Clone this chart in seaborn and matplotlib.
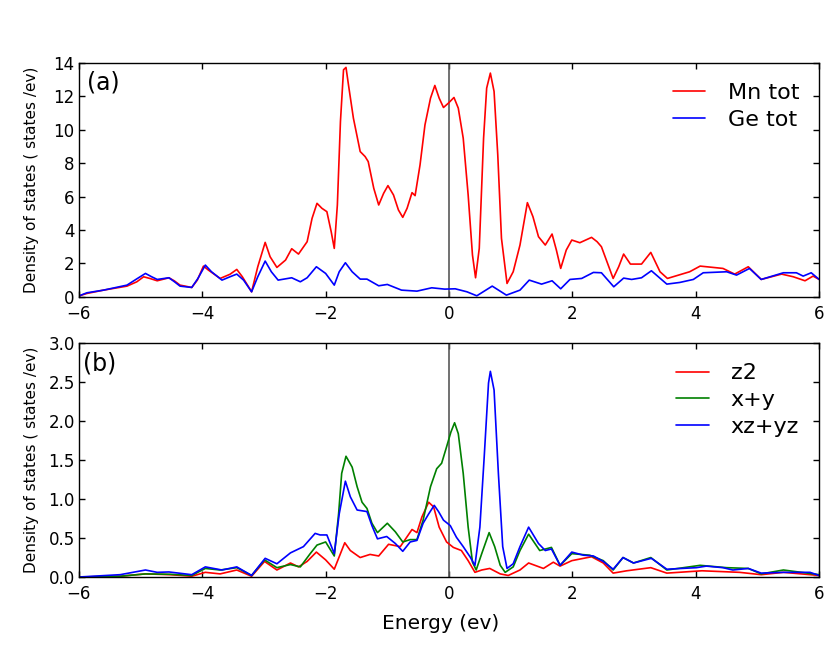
import matplotlib
matplotlib.use("Agg")
import matplotlib.pyplot as plt
import seaborn as sns

# (a) total DOS
energy_mn = [-6, -5.87, -5.6, -5.22, -5.06, -4.95, -4.85, -4.73, -4.54, -4.45, -4.36, -4.17, -4.08, -3.98, -3.9,
             -3.71, -3.55, -3.44, -3.35, -3.2, -3.1, -2.98, -2.9, -2.79, -2.65, -2.55, -2.44, -2.3, -2.22, -2.14,
             -2.06, -1.98, -1.91, -1.86, -1.81, -1.76, -1.71, -1.67, -1.63, -1.55, -1.44, -1.36, -1.31, -1.22, -1.14,
             -1.06, -0.99, -0.9, -0.82, -0.75, -0.68, -0.6, -0.55, -0.47, -0.39, -0.3, -0.23, -0.16, -0.09, -0.01,
             0.08, 0.15, 0.23, 0.31, 0.38, 0.43, 0.49, 0.56, 0.61, 0.67, 0.73, 0.79, 0.85, 0.94, 1.04,
             1.15, 1.27, 1.36, 1.45, 1.56, 1.67, 1.74, 1.81, 1.9, 1.99, 2.12, 2.31, 2.4, 2.47, 2.57,
             2.66, 2.75, 2.83, 2.94, 3.12, 3.27, 3.42, 3.54, 3.9, 4.07, 4.44, 4.63, 4.85, 5.06, 5.39,
             5.58, 5.77, 5.9, 6.0]
mn_tot = [0.05, 0.2, 0.4, 0.64, 0.9, 1.2, 1.1, 0.96, 1.14, 0.95, 0.7, 0.56, 1.0, 1.84, 1.6,
          1.1, 1.35, 1.64, 1.2, 0.3, 1.8, 3.26, 2.4, 1.76, 2.2, 2.88, 2.56, 3.3, 4.7, 5.6,
          5.3, 5.1, 3.9, 2.9, 5.5, 10.5, 13.6, 13.74, 12.7, 10.7, 8.7, 8.4, 8.1, 6.5, 5.5,
          6.2, 6.66, 6.1, 5.2, 4.76, 5.3, 6.24, 6.06, 7.9, 10.3, 11.9, 12.66, 11.9, 11.34, 11.6,
          11.94, 11.3, 9.5, 6.1, 2.5, 1.14, 2.9, 9.5, 12.5, 13.4, 12.3, 8.5, 3.5, 0.8, 1.5,
          3.1, 5.64, 4.8, 3.6, 3.1, 3.76, 2.8, 1.7, 2.8, 3.4, 3.24, 3.56, 3.3, 3.0, 2.0,
          1.1, 1.8, 2.56, 1.96, 1.96, 2.66, 1.5, 1.1, 1.5, 1.84, 1.7, 1.36, 1.8, 1.04, 1.36,
          1.2, 0.96, 1.24, 1.04]

energy_ge = [-6, -5.87, -5.6, -5.22, -5.05, -4.92, -4.82, -4.73, -4.54, -4.45, -4.36, -4.17, -4.07, -3.95, -3.85,
             -3.68, -3.55, -3.44, -3.33, -3.2, -3.1, -2.98, -2.88, -2.77, -2.55, -2.41, -2.3, -2.15, -2.0, -1.86,
             -1.78, -1.68, -1.57, -1.44, -1.33, -1.14, -1.0, -0.77, -0.52, -0.28, -0.07, 0.1, 0.29, 0.45, 0.7,
             0.93, 1.15, 1.3, 1.5, 1.67, 1.81, 1.96, 2.15, 2.34, 2.47, 2.67, 2.83, 2.96, 3.12, 3.28,
             3.53, 3.74, 3.96, 4.12, 4.5, 4.66, 4.87, 5.06, 5.42, 5.63, 5.74, 5.87, 6]
ge_tot = [0.05, 0.24, 0.4, 0.7, 1.1, 1.4, 1.2, 1.04, 1.14, 0.9, 0.64, 0.56, 1.1, 1.9, 1.5,
          1.0, 1.2, 1.36, 1.0, 0.3, 1.2, 2.14, 1.5, 1.0, 1.14, 0.9, 1.14, 1.8, 1.4, 0.7,
          1.5, 2.04, 1.5, 1.06, 1.06, 0.66, 0.74, 0.4, 0.34, 0.54, 0.46, 0.48, 0.3, 0.06, 0.64,
          0.1, 0.4, 1.0, 0.76, 0.96, 0.48, 1.04, 1.1, 1.46, 1.44, 0.6, 1.12, 1.04, 1.14, 1.56,
          0.76, 0.86, 1.04, 1.44, 1.5, 1.3, 1.7, 1.04, 1.44, 1.44, 1.24, 1.44, 1.04]

# (b) Mn d orbitals
energy_z2 = [-6, -5.33, -4.92, -4.52, -4.17, -3.95, -3.71, -3.44, -3.2, -2.99, -2.79, -2.57, -2.44, -2.3, -2.15,
             -2.0, -1.86, -1.76, -1.69, -1.6, -1.44, -1.28, -1.14, -0.98, -0.79, -0.6, -0.52, -0.44, -0.33, -0.25,
             -0.16, -0.04, 0.07, 0.2, 0.31, 0.42, 0.53, 0.66, 0.83, 0.96, 1.15, 1.29, 1.53, 1.69, 1.8,
             1.99, 2.31, 2.5, 2.66, 2.88, 3.27, 3.53, 4.1, 4.71, 5.06, 5.42, 6]
z2 = [0, 0.01, 0.04, 0.03, 0.01, 0.06, 0.04, 0.09, 0.01, 0.2, 0.09, 0.18, 0.13, 0.2, 0.32,
      0.22, 0.1, 0.3, 0.44, 0.34, 0.25, 0.29, 0.27, 0.42, 0.39, 0.61, 0.57, 0.77, 0.96, 0.9,
      0.64, 0.45, 0.38, 0.34, 0.21, 0.06, 0.09, 0.11, 0.04, 0.02, 0.09, 0.18, 0.11, 0.19, 0.14,
      0.21, 0.26, 0.18, 0.05, 0.08, 0.12, 0.05, 0.08, 0.06, 0.03, 0.06, 0.02]

energy_xy = [-6, -5.33, -4.92, -4.52, -4.17, -3.95, -3.71, -3.44, -3.2, -2.99, -2.79, -2.57, -2.41, -2.25, -2.14,
             -2.0, -1.93, -1.86, -1.79, -1.74, -1.67, -1.57, -1.49, -1.41, -1.33, -1.25, -1.16, -1.0, -0.87, -0.75,
             -0.63, -0.52, -0.42, -0.3, -0.2, -0.12, -0.04, 0.03, 0.09, 0.15, 0.23, 0.31, 0.38, 0.44, 0.53,
             0.65, 0.74, 0.83, 0.91, 1.04, 1.15, 1.29, 1.47, 1.66, 1.8, 1.99, 2.28, 2.5, 2.66, 2.82,
             2.99, 3.27, 3.53, 4.07, 4.5, 4.85, 5.06, 5.42, 6]
x_plus_y = [0, 0.01, 0.04, 0.035, 0.02, 0.11, 0.09, 0.12, 0.02, 0.22, 0.12, 0.16, 0.13, 0.3, 0.41,
            0.45, 0.36, 0.27, 0.81, 1.33, 1.55, 1.41, 1.16, 0.96, 0.88, 0.69, 0.57, 0.69, 0.58, 0.45,
            0.48, 0.48, 0.73, 1.16, 1.39, 1.46, 1.67, 1.86, 1.98, 1.84, 1.33, 0.64, 0.19, 0.09, 0.3,
            0.57, 0.39, 0.15, 0.06, 0.13, 0.34, 0.55, 0.34, 0.38, 0.15, 0.3, 0.28, 0.21, 0.09, 0.25,
            0.18, 0.25, 0.09, 0.15, 0.12, 0.11, 0.04, 0.09, 0.03]

energy_xzyz = [-6, -5.33, -4.92, -4.73, -4.54, -4.17, -3.95, -3.68, -3.44, -3.2, -2.98, -2.79, -2.57, -2.36, -2.17,
               -2.09, -1.98, -1.86, -1.78, -1.68, -1.6, -1.49, -1.33, -1.25, -1.16, -1.01, -0.87, -0.75, -0.63, -0.52,
               -0.42, -0.33, -0.24, -0.17, -0.09, 0.02, 0.12, 0.23, 0.34, 0.42, 0.5, 0.57, 0.64, 0.67, 0.73,
               0.8, 0.87, 0.94, 1.04, 1.15, 1.29, 1.45, 1.56, 1.66, 1.8, 1.99, 2.18, 2.34, 2.5, 2.66,
               2.82, 2.99, 3.28, 3.53, 4.01, 4.17, 4.44, 4.6, 4.85, 5.06, 5.42, 5.85, 6]
xz_plus_yz = [0, 0.03, 0.09, 0.06, 0.065, 0.03, 0.13, 0.09, 0.13, 0.02, 0.24, 0.17, 0.31, 0.39, 0.56,
              0.54, 0.54, 0.3, 0.81, 1.23, 1.03, 0.86, 0.84, 0.66, 0.49, 0.52, 0.43, 0.33, 0.45, 0.47,
              0.69, 0.81, 0.92, 0.84, 0.73, 0.66, 0.51, 0.39, 0.26, 0.15, 0.64, 1.54, 2.49, 2.64, 2.4,
              1.33, 0.39, 0.11, 0.17, 0.39, 0.64, 0.43, 0.34, 0.36, 0.15, 0.32, 0.28, 0.27, 0.2, 0.1,
              0.25, 0.18, 0.24, 0.1, 0.12, 0.14, 0.12, 0.09, 0.11, 0.05, 0.06, 0.06, 0.02]

xticks = [-6, -4, -2, 0, 2, 4, 6]
yticks_a = [0, 2, 4, 6, 8, 10, 12, 14]
yticks_b = [0.0, 0.5, 1.0, 1.5, 2.0, 2.5, 3.0]

sns.set_style("ticks", {"xtick.direction": "in", "ytick.direction": "in"})
plt.rcParams["font.family"] = ["DejaVu Sans"]
plt.rcParams["text.color"] = "black"
plt.rcParams["axes.labelcolor"] = "black"
plt.rcParams["xtick.color"] = "black"
plt.rcParams["ytick.color"] = "black"

fig = plt.figure(figsize=(8.3, 6.64), dpi=100)
ax1 = fig.add_axes([0.095, 0.553, 0.892, 0.352])
ax2 = fig.add_axes([0.095, 0.131, 0.892, 0.352])

sns.lineplot(x=energy_mn, y=mn_tot, ax=ax1, color="red", lw=1.2, label="Mn tot")
sns.lineplot(x=energy_ge, y=ge_tot, ax=ax1, color="blue", lw=1.2, label="Ge tot")

sns.lineplot(x=energy_z2, y=z2, ax=ax2, color="red", lw=1.2, label="z2")
sns.lineplot(x=energy_xy, y=x_plus_y, ax=ax2, color="green", lw=1.2, label="x+y")
sns.lineplot(x=energy_xzyz, y=xz_plus_yz, ax=ax2, color="blue", lw=1.2, label="xz+yz")

for ax, yt, tag, tx in [(ax1, yticks_a, "(a)", 0.011), (ax2, yticks_b, "(b)", 0.005)]:
    ax.axvline(0, color="0.35", lw=1.2, zorder=1)
    ax.set_xlim(-6, 6)
    ax.set_ylim(yt[0], yt[-1])
    ax.set_xticks(xticks)
    ax.set_yticks(yt)
    ax.tick_params(which="both", direction="in", top=True, right=True, length=4, width=1,
                   labelsize=12, colors="black")
    ax.tick_params(axis="x", pad=6)
    ax.tick_params(axis="y", pad=3)
    for sp in ax.spines.values():
        sp.set_visible(True)
        sp.set_color("black")
        sp.set_linewidth(1)
    ax.set_ylabel("Density of states ( states /ev)", fontsize=11)
    ax.yaxis.set_label_coords(-0.054, 0.5)
    ax.text(tx, 0.915, tag, transform=ax.transAxes, fontsize=17, va="center", ha="left")
    ax.legend(loc="upper right", frameon=False, fontsize=16, handlelength=1.45,
              handletextpad=1.0, labelspacing=0.3, borderaxespad=0.5)

ax2.set_yticklabels(["0.0", "0.5", "1.0", "1.5", "2.0", "2.5", "3.0"])
ax1.set_xlabel("")
ax2.set_xlabel("Energy (ev)", fontsize=14.5)
ax2.xaxis.set_label_coords(0.489, -0.16)

fig.savefig("out.png", dpi=100)
